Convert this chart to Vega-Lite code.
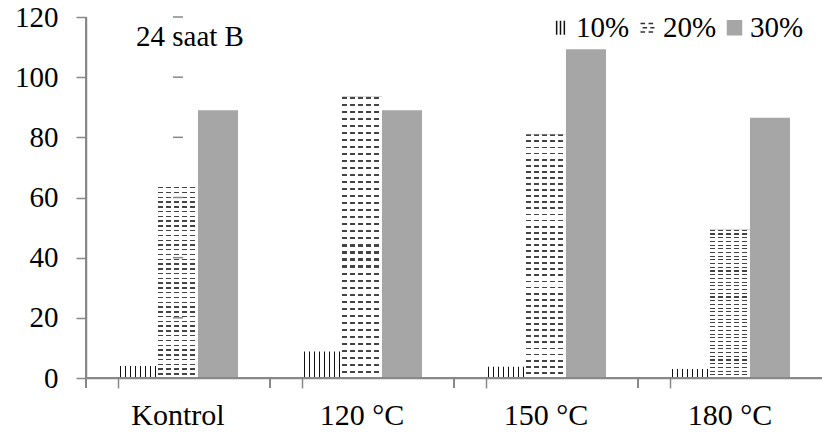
{
  "$schema": "https://vega.github.io/schema/vega-lite/v6.json",
  "width": 736,
  "height": 361,
  "autosize": {"type": "none"},
  "padding": {"left": 86, "top": 17, "right": 0, "bottom": 58},
  "background": "white",
  "config": {
    "view": {"stroke": null},
    "font": "Liberation Serif",
    "text": {"font": "Liberation Serif"},
    "legend": {"labelFont": "Liberation Serif"},
    "axis": {"labelFont": "Liberation Serif", "labelColor": "black", "grid": false}
  },
  "data": {
    "values": [
      {"cat": "Kontrol", "grp": "10%", "val": 4},
      {"cat": "Kontrol", "grp": "20%", "val": 63.5},
      {"cat": "Kontrol", "grp": "30%", "val": 89},
      {"cat": "120 °C", "grp": "10%", "val": 8.8},
      {"cat": "120 °C", "grp": "20%", "val": 93.5},
      {"cat": "120 °C", "grp": "30%", "val": 89},
      {"cat": "150 °C", "grp": "10%", "val": 3.7},
      {"cat": "150 °C", "grp": "20%", "val": 81},
      {"cat": "150 °C", "grp": "30%", "val": 109.3},
      {"cat": "180 °C", "grp": "10%", "val": 3},
      {"cat": "180 °C", "grp": "20%", "val": 49.3},
      {"cat": "180 °C", "grp": "30%", "val": 86.5}
    ]
  },
  "layer": [
    {
      "transform": [{"filter": "datum.grp === '30%'"}],
      "mark": {"type": "bar", "fill": "#a6a6a6"},
      "encoding": {
        "x": {
          "field": "cat", "type": "nominal", "title": null,
          "sort": ["Kontrol", "120 °C", "150 °C", "180 °C"],
          "scale": {"paddingInner": 0.348, "paddingOuter": 0.174},
          "axis": {"zindex": 1, "domain": true, "ticks": true, "domainColor": "#888888", "tickColor": "#888888", "domainWidth": 1.5, "tickWidth": 1.5, "bandPosition": 0, "tickSize": 10, "labelPadding": 12, "labelAngle": 0, "labelFont": "Liberation Serif", "labelFontSize": 30, "labelColor": "black"}
        },
        "xOffset": {"field": "grp", "type": "nominal", "scale": {"domain": ["10%", "20%", "30%"], "paddingInner": 0, "paddingOuter": 0}},
        "y": {
          "field": "val", "type": "quantitative", "title": null,
          "scale": {"domain": [0, 120], "nice": false},
          "axis": {"zindex": 1, "domain": true, "ticks": true, "domainColor": "#888888", "tickColor": "#888888", "domainWidth": 1.5, "tickWidth": 1.5, "values": [0, 20, 40, 60, 80, 100, 120], "tickSize": 10, "labelPadding": 18, "labelFont": "Liberation Serif", "labelFontSize": 29, "labelColor": "black"}
        }
      }
    },
    {
      "transform": [{"filter": "datum.grp === '10%'"}],
      "mark": {
        "type": "bar",
        "fill": {"gradient": "linear", "x1": 0, "y1": 0, "x2": 1, "y2": 0, "stops": [
          {"offset": 0, "color": "#fff"}, {"offset": 0.04, "color": "#fff"}, {"offset": 0.04, "color": "#111"}, {"offset": 0.07, "color": "#111"},
          {"offset": 0.07, "color": "#fff"}, {"offset": 0.165, "color": "#fff"}, {"offset": 0.165, "color": "#111"}, {"offset": 0.195, "color": "#111"},
          {"offset": 0.195, "color": "#fff"}, {"offset": 0.29, "color": "#fff"}, {"offset": 0.29, "color": "#111"}, {"offset": 0.32, "color": "#111"},
          {"offset": 0.32, "color": "#fff"}, {"offset": 0.415, "color": "#fff"}, {"offset": 0.415, "color": "#111"}, {"offset": 0.445, "color": "#111"},
          {"offset": 0.445, "color": "#fff"}, {"offset": 0.54, "color": "#fff"}, {"offset": 0.54, "color": "#111"}, {"offset": 0.57, "color": "#111"},
          {"offset": 0.57, "color": "#fff"}, {"offset": 0.665, "color": "#fff"}, {"offset": 0.665, "color": "#111"}, {"offset": 0.695, "color": "#111"},
          {"offset": 0.695, "color": "#fff"}, {"offset": 0.79, "color": "#fff"}, {"offset": 0.79, "color": "#111"}, {"offset": 0.82, "color": "#111"},
          {"offset": 0.82, "color": "#fff"}, {"offset": 0.915, "color": "#fff"}, {"offset": 0.915, "color": "#111"}, {"offset": 0.945, "color": "#111"},
          {"offset": 0.945, "color": "#fff"}, {"offset": 1, "color": "#fff"}
        ]}
      },
      "encoding": {
        "x": {"field": "cat", "type": "nominal", "sort": ["Kontrol", "120 °C", "150 °C", "180 °C"]},
        "xOffset": {"field": "grp", "type": "nominal"},
        "y": {"field": "val", "type": "quantitative"}
      }
    },
    {
      "transform": [{"filter": "datum.grp === '20%'"}],
      "mark": {
        "type": "bar",
        "fill": {"gradient": "linear", "x1": 0, "y1": 0, "x2": 0, "y2": 1, "stops": [
          {"offset": 0, "color": "#444"}, {"offset": 0.0075, "color": "#444"}, {"offset": 0.0075, "color": "#fff"}, {"offset": 0.025, "color": "#fff"},
          {"offset": 0.025, "color": "#444"}, {"offset": 0.0325, "color": "#444"}, {"offset": 0.0325, "color": "#fff"}, {"offset": 0.05, "color": "#fff"},
          {"offset": 0.05, "color": "#444"}, {"offset": 0.0575, "color": "#444"}, {"offset": 0.0575, "color": "#fff"}, {"offset": 0.075, "color": "#fff"},
          {"offset": 0.075, "color": "#444"}, {"offset": 0.0825, "color": "#444"}, {"offset": 0.0825, "color": "#fff"}, {"offset": 0.1, "color": "#fff"},
          {"offset": 0.1, "color": "#444"}, {"offset": 0.1075, "color": "#444"}, {"offset": 0.1075, "color": "#fff"}, {"offset": 0.125, "color": "#fff"},
          {"offset": 0.125, "color": "#444"}, {"offset": 0.1325, "color": "#444"}, {"offset": 0.1325, "color": "#fff"}, {"offset": 0.15, "color": "#fff"},
          {"offset": 0.15, "color": "#444"}, {"offset": 0.1575, "color": "#444"}, {"offset": 0.1575, "color": "#fff"}, {"offset": 0.175, "color": "#fff"},
          {"offset": 0.175, "color": "#444"}, {"offset": 0.1825, "color": "#444"}, {"offset": 0.1825, "color": "#fff"}, {"offset": 0.2, "color": "#fff"},
          {"offset": 0.2, "color": "#444"}, {"offset": 0.2075, "color": "#444"}, {"offset": 0.2075, "color": "#fff"}, {"offset": 0.225, "color": "#fff"},
          {"offset": 0.225, "color": "#444"}, {"offset": 0.2325, "color": "#444"}, {"offset": 0.2325, "color": "#fff"}, {"offset": 0.25, "color": "#fff"},
          {"offset": 0.25, "color": "#444"}, {"offset": 0.2575, "color": "#444"}, {"offset": 0.2575, "color": "#fff"}, {"offset": 0.275, "color": "#fff"},
          {"offset": 0.275, "color": "#444"}, {"offset": 0.2825, "color": "#444"}, {"offset": 0.2825, "color": "#fff"}, {"offset": 0.3, "color": "#fff"},
          {"offset": 0.3, "color": "#444"}, {"offset": 0.3075, "color": "#444"}, {"offset": 0.3075, "color": "#fff"}, {"offset": 0.325, "color": "#fff"},
          {"offset": 0.325, "color": "#444"}, {"offset": 0.3325, "color": "#444"}, {"offset": 0.3325, "color": "#fff"}, {"offset": 0.35, "color": "#fff"},
          {"offset": 0.35, "color": "#444"}, {"offset": 0.3575, "color": "#444"}, {"offset": 0.3575, "color": "#fff"}, {"offset": 0.375, "color": "#fff"},
          {"offset": 0.375, "color": "#444"}, {"offset": 0.3825, "color": "#444"}, {"offset": 0.3825, "color": "#fff"}, {"offset": 0.4, "color": "#fff"},
          {"offset": 0.4, "color": "#444"}, {"offset": 0.4075, "color": "#444"}, {"offset": 0.4075, "color": "#fff"}, {"offset": 0.425, "color": "#fff"},
          {"offset": 0.425, "color": "#444"}, {"offset": 0.4325, "color": "#444"}, {"offset": 0.4325, "color": "#fff"}, {"offset": 0.45, "color": "#fff"},
          {"offset": 0.45, "color": "#444"}, {"offset": 0.4575, "color": "#444"}, {"offset": 0.4575, "color": "#fff"}, {"offset": 0.475, "color": "#fff"},
          {"offset": 0.475, "color": "#444"}, {"offset": 0.4825, "color": "#444"}, {"offset": 0.4825, "color": "#fff"}, {"offset": 0.5, "color": "#fff"},
          {"offset": 0.5, "color": "#444"}, {"offset": 0.5075, "color": "#444"}, {"offset": 0.5075, "color": "#fff"}, {"offset": 0.525, "color": "#fff"},
          {"offset": 0.525, "color": "#444"}, {"offset": 0.5325, "color": "#444"}, {"offset": 0.5325, "color": "#fff"}, {"offset": 0.55, "color": "#fff"},
          {"offset": 0.55, "color": "#444"}, {"offset": 0.5575, "color": "#444"}, {"offset": 0.5575, "color": "#fff"}, {"offset": 0.575, "color": "#fff"},
          {"offset": 0.575, "color": "#444"}, {"offset": 0.5825, "color": "#444"}, {"offset": 0.5825, "color": "#fff"}, {"offset": 0.6, "color": "#fff"},
          {"offset": 0.6, "color": "#444"}, {"offset": 0.6075, "color": "#444"}, {"offset": 0.6075, "color": "#fff"}, {"offset": 0.625, "color": "#fff"},
          {"offset": 0.625, "color": "#444"}, {"offset": 0.6325, "color": "#444"}, {"offset": 0.6325, "color": "#fff"}, {"offset": 0.65, "color": "#fff"},
          {"offset": 0.65, "color": "#444"}, {"offset": 0.6575, "color": "#444"}, {"offset": 0.6575, "color": "#fff"}, {"offset": 0.675, "color": "#fff"},
          {"offset": 0.675, "color": "#444"}, {"offset": 0.6825, "color": "#444"}, {"offset": 0.6825, "color": "#fff"}, {"offset": 0.7, "color": "#fff"},
          {"offset": 0.7, "color": "#444"}, {"offset": 0.7075, "color": "#444"}, {"offset": 0.7075, "color": "#fff"}, {"offset": 0.725, "color": "#fff"},
          {"offset": 0.725, "color": "#444"}, {"offset": 0.7325, "color": "#444"}, {"offset": 0.7325, "color": "#fff"}, {"offset": 0.75, "color": "#fff"},
          {"offset": 0.75, "color": "#444"}, {"offset": 0.7575, "color": "#444"}, {"offset": 0.7575, "color": "#fff"}, {"offset": 0.775, "color": "#fff"},
          {"offset": 0.775, "color": "#444"}, {"offset": 0.7825, "color": "#444"}, {"offset": 0.7825, "color": "#fff"}, {"offset": 0.8, "color": "#fff"},
          {"offset": 0.8, "color": "#444"}, {"offset": 0.8075, "color": "#444"}, {"offset": 0.8075, "color": "#fff"}, {"offset": 0.825, "color": "#fff"},
          {"offset": 0.825, "color": "#444"}, {"offset": 0.8325, "color": "#444"}, {"offset": 0.8325, "color": "#fff"}, {"offset": 0.85, "color": "#fff"},
          {"offset": 0.85, "color": "#444"}, {"offset": 0.8575, "color": "#444"}, {"offset": 0.8575, "color": "#fff"}, {"offset": 0.875, "color": "#fff"},
          {"offset": 0.875, "color": "#444"}, {"offset": 0.8825, "color": "#444"}, {"offset": 0.8825, "color": "#fff"}, {"offset": 0.9, "color": "#fff"},
          {"offset": 0.9, "color": "#444"}, {"offset": 0.9075, "color": "#444"}, {"offset": 0.9075, "color": "#fff"}, {"offset": 0.925, "color": "#fff"},
          {"offset": 0.925, "color": "#444"}, {"offset": 0.9325, "color": "#444"}, {"offset": 0.9325, "color": "#fff"}, {"offset": 0.95, "color": "#fff"},
          {"offset": 0.95, "color": "#444"}, {"offset": 0.9575, "color": "#444"}, {"offset": 0.9575, "color": "#fff"}, {"offset": 0.975, "color": "#fff"},
          {"offset": 0.975, "color": "#444"}, {"offset": 0.9825, "color": "#444"}, {"offset": 0.9825, "color": "#fff"}, {"offset": 1, "color": "#fff"}
        ]}
      },
      "encoding": {
        "x": {"field": "cat", "type": "nominal", "sort": ["Kontrol", "120 °C", "150 °C", "180 °C"]},
        "xOffset": {"field": "grp", "type": "nominal"},
        "y": {"field": "val", "type": "quantitative"}
      }
    },
    {
      "transform": [{"filter": "datum.grp === '20%'"}],
      "mark": {
        "type": "bar",
        "fill": {"gradient": "linear", "x1": 0, "y1": 0, "x2": 1, "y2": 0, "stops": [
          {"offset": 0, "color": "rgba(255,255,255,0)"}, {"offset": 0.125, "color": "rgba(255,255,255,0)"}, {"offset": 0.125, "color": "#fff"}, {"offset": 0.2, "color": "#fff"},
          {"offset": 0.2, "color": "rgba(255,255,255,0)"}, {"offset": 0.325, "color": "rgba(255,255,255,0)"}, {"offset": 0.325, "color": "#fff"}, {"offset": 0.4, "color": "#fff"},
          {"offset": 0.4, "color": "rgba(255,255,255,0)"}, {"offset": 0.525, "color": "rgba(255,255,255,0)"}, {"offset": 0.525, "color": "#fff"}, {"offset": 0.6, "color": "#fff"},
          {"offset": 0.6, "color": "rgba(255,255,255,0)"}, {"offset": 0.725, "color": "rgba(255,255,255,0)"}, {"offset": 0.725, "color": "#fff"}, {"offset": 0.8, "color": "#fff"},
          {"offset": 0.8, "color": "rgba(255,255,255,0)"}, {"offset": 0.925, "color": "rgba(255,255,255,0)"}, {"offset": 0.925, "color": "#fff"}, {"offset": 1, "color": "#fff"}
        ]}
      },
      "encoding": {
        "x": {"field": "cat", "type": "nominal", "sort": ["Kontrol", "120 °C", "150 °C", "180 °C"]},
        "xOffset": {"field": "grp", "type": "nominal"},
        "y": {"field": "val", "type": "quantitative"}
      }
    },
    {
      "mark": {"type": "rule", "color": "#888888", "strokeWidth": 1.5},
      "encoding": {
        "y": {"datum": 0, "type": "quantitative"}
      }
    },
    {
      "mark": {"type": "rule", "color": "#888888", "strokeWidth": 1.5},
      "encoding": {
        "x": {"datum": "Kontrol", "type": "nominal", "bandPosition": -0.2667},
        "y": {"datum": 120, "type": "quantitative"},
        "y2": {"datum": -3.3}
      }
    },
    {
      "mark": {"type": "rule", "color": "#888888", "strokeWidth": 1.5},
      "encoding": {
        "x": {"field": "cat", "type": "nominal", "sort": ["Kontrol", "120 °C", "150 °C", "180 °C"], "bandPosition": -0.2667},
        "y": {"datum": 0, "type": "quantitative"},
        "y2": {"datum": -3.3}
      }
    },
    {
      "data": {"values": [{"t": 0}, {"t": 20}, {"t": 40}, {"t": 60}, {"t": 80}, {"t": 100}, {"t": 120}]},
      "mark": {"type": "tick", "orient": "horizontal", "color": "#888888", "size": 10, "thickness": 1.5, "opacity": 1},
      "encoding": {
        "x": {"datum": "Kontrol", "type": "nominal", "bandPosition": -0.3083},
        "y": {"field": "t", "type": "quantitative"}
      }
    },
    {
      "transform": [{"filter": "false"}],
      "mark": {"type": "point", "opacity": 1, "strokeWidth": 1.2},
      "encoding": {
        "fill": {
          "field": "grp", "type": "nominal",
          "scale": {"domain": ["10%", "20%", "30%"], "range": ["transparent", "transparent", "#a6a6a6"]},
          "legend": {"title": null, "orient": "none", "direction": "horizontal", "legendX": 460, "legendY": -4, "symbolSize": 196, "labelOffset": 1, "columnPadding": 3, "padding": 0, "labelFont": "Liberation Serif", "labelFontSize": 29, "labelColor": "black"}
        },
        "stroke": {
          "field": "grp", "type": "nominal",
          "scale": {"domain": ["10%", "20%", "30%"], "range": ["#111111", "#333333", "#a6a6a6"]},
          "legend": {"title": null, "orient": "none", "direction": "horizontal", "legendX": 460, "legendY": -4, "symbolSize": 196, "labelOffset": 1, "columnPadding": 3, "padding": 0, "labelFont": "Liberation Serif", "labelFontSize": 29, "labelColor": "black"}
        },
        "shape": {
          "field": "grp", "type": "nominal",
          "scale": {"domain": ["10%", "20%", "30%"], "range": ["M-0.55,-1L-0.55,1M0,-1L0,1M0.55,-1L0.55,1", "M-1,-0.6L-0.35,-0.6M0.15,-0.6L0.8,-0.6M-0.7,0L-0.05,0M0.4,0L1,0M-1,0.6L-0.35,0.6M0.15,0.6L0.8,0.6", "square"]},
          "legend": {"title": null, "orient": "none", "direction": "horizontal", "legendX": 460, "legendY": -4, "symbolSize": 196, "labelOffset": 1, "columnPadding": 3, "padding": 0, "labelFont": "Liberation Serif", "labelFontSize": 29, "labelColor": "black"}
        }
      }
    },
    {
      "data": {"values": [{"note": "24 saat B"}]},
      "mark": {"type": "text", "font": "Liberation Serif", "fontSize": 29, "color": "black", "align": "center", "baseline": "alphabetic", "dx": 12},
      "encoding": {
        "x": {"datum": "Kontrol", "type": "nominal"},
        "y": {"datum": 110.5, "type": "quantitative"},
        "text": {"field": "note"}
      }
    }
  ]
}
